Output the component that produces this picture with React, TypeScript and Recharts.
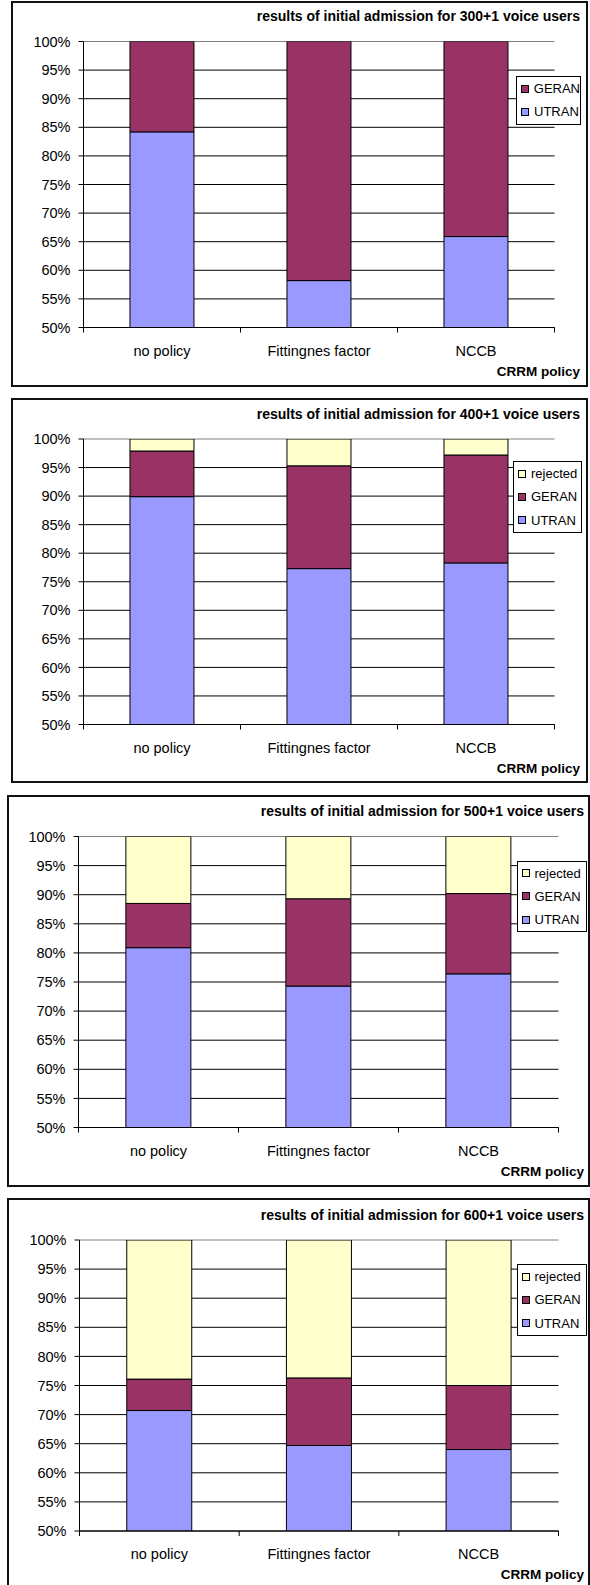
import React from 'react'
import { Bar, BarChart, CartesianGrid, Legend, XAxis, YAxis } from 'recharts'

const policies = ['no policy', 'Fittingnes factor', 'NCCB']
const percentTicks = [50, 55, 60, 65, 70, 75, 80, 85, 90, 95, 100]

const utran300 = [84.2, 58.2, 65.9]
const geran300 = [15.8, 41.8, 34.1]

const utran400 = [89.9, 77.3, 78.3]
const geran400 = [8.0, 18.0, 18.9]
const rejected400 = [2.1, 4.7, 2.8]

const utran500 = [80.9, 74.3, 76.4]
const geran500 = [7.6, 15.0, 13.8]
const rejected500 = [11.5, 10.7, 9.8]

const utran600 = [70.7, 64.7, 64.0]
const geran600 = [5.4, 11.6, 11.0]
const rejected600 = [23.9, 23.7, 25.0]

const FONT = '"Liberation Sans", Arial, sans-serif'
const PAGE_W = 590
const PAGE_H = 1585
const X_AXIS_H = 40

const colors: Record<string, string> = {
    utran: '#9999FF',
    geran: '#993366',
    rejected: '#FFFFCC',
}
const names: Record<string, string> = {
    utran: 'UTRAN',
    geran: 'GERAN',
    rejected: 'rejected',
}

type Box = { left: number, top: number, width: number, height: number }
type Plot = { left: number, top: number, right: number, bottom: number }

const buildRows = (utran: number[], geran: number[], rejected?: number[]) =>
    policies.map((policy, i) => ({
        policy,
        utran: utran[i],
        geran: geran[i],
        ...(rejected ? { rejected: rejected[i] } : {}),
    }))

// category tick: label in the middle, small tick marks on the band edges (excel style)
const PolicyTick = (props: any) => {
    const { x, y, payload, index, visibleTicksCount, bandHalf } = props
    const half = payload && payload.offset ? payload.offset : bandHalf
    return (
        <g>
            <line x1={x - half} x2={x - half} y1={y} y2={y + 5} stroke="#000" />
            {index === visibleTicksCount - 1 &&
                <line x1={x + half} x2={x + half} y1={y} y2={y + 5} stroke="#000" />}
            <text x={x} y={y + 28} textAnchor="middle" fill="#000" fontSize={14.5} fontFamily={FONT}>
                {payload.value}
            </text>
        </g>
    )
}

const GridLine = (props: any) => {
    const { x1, x2, y1, y2, y } = props
    const isTop = Math.abs(y1 - y) < 0.5
    return <line x1={x1} x2={x2} y1={y1} y2={y2} stroke={isTop ? '#808080' : '#000'} strokeWidth={1} />
}

const makeLegend = (width: number, series: string[]) => () => {
    const items = [...series].reverse()
    return (
        <div style={{
            width, boxSizing: 'border-box', border: '1px solid #000', background: '#fff',
            paddingLeft: 4, fontFamily: FONT, fontSize: 13, color: '#000',
        }}>
            {items.map((key) => (
                <div key={key} style={{ display: 'flex', alignItems: 'center', height: 23.3, whiteSpace: 'nowrap' }}>
                    <span style={{
                        display: 'inline-block', width: 8, height: 8, boxSizing: 'border-box',
                        border: '1px solid #000', background: colors[key], marginRight: 5,
                    }} />
                    {names[key]}
                </div>
            ))}
        </div>
    )
}

const Panel = ({ title, rows, series, box, plot, legend, textRight }: {
    title: string, rows: any[], series: string[], box: Box, plot: Plot, legend: Box, textRight: number
}) => {
    const chartH = Math.min(box.height, PAGE_H - box.top)
    const margin = {
        top: plot.top - box.top,
        left: 0,
        right: PAGE_W - plot.right,
        bottom: chartH - (plot.bottom - box.top) - X_AXIS_H,
    }
    const bandHalf = (plot.right - plot.left) / policies.length / 2
    return (
        <>
            <div style={{
                position: 'absolute', left: box.left, top: box.top, width: box.width, height: box.height,
                border: '2px solid #111', boxSizing: 'border-box', background: '#fff',
            }} />
            <div style={{ position: 'absolute', left: 0, top: box.top }}>
                <BarChart width={PAGE_W} height={chartH} data={rows} margin={margin} barCategoryGap="29.6%">
                    <CartesianGrid vertical={false} horizontal={<GridLine />} stroke="#000" />
                    <XAxis dataKey="policy" height={X_AXIS_H} tickSize={0} tickMargin={0} tickLine={false}
                        axisLine={{ stroke: '#000' }} tick={<PolicyTick bandHalf={bandHalf} />} interval={0} />
                    <YAxis width={plot.left} domain={[50, 100]} ticks={percentTicks} allowDataOverflow
                        tickFormatter={(v) => `${v}%`} tickSize={5} tickMargin={8}
                        axisLine={{ stroke: '#000' }} tickLine={{ stroke: '#000' }}
                        tick={{ fill: '#000', fontSize: 14.5, fontFamily: FONT }} />
                    <YAxis yAxisId="frame" orientation="right" width={0} domain={[50, 100]} tick={false}
                        tickLine={false} axisLine={{ stroke: '#808080' }} />
                    <Legend layout="vertical" align="center" verticalAlign="middle"
                        content={makeLegend(legend.width, series)}
                        wrapperStyle={{ left: legend.left, top: legend.top - box.top, width: legend.width }} />
                    {series.map((key) => (
                        <Bar key={key} dataKey={key} name={names[key]} stackId="a" fill={colors[key]}
                            stroke="#000" strokeWidth={1} isAnimationActive={false} />
                    ))}
                </BarChart>
            </div>
            <svg width={PAGE_W} height={chartH} style={{ position: 'absolute', left: 0, top: box.top, pointerEvents: 'none' }}>
                <text x={textRight} y={plot.top - box.top - 20.4} textAnchor="end" fontFamily={FONT}
                    fontWeight="bold" fontSize={14} fill="#000">{title}</text>
                <text x={textRight} y={plot.bottom - box.top + 48.3} textAnchor="end" fontFamily={FONT}
                    fontWeight="bold" fontSize={13.5} fill="#000">CRRM policy</text>
            </svg>
        </>
    )
}

export default function App() {
    return (
        <div style={{ position: 'absolute', left: 0, top: 0, width: PAGE_W, height: PAGE_H, overflow: 'hidden', background: '#fff' }}>
            <Panel title="results of initial admission for 300+1 voice users"
                rows={buildRows(utran300, geran300)} series={['utran', 'geran']}
                box={{ left: 11, top: 1, width: 577, height: 386 }}
                plot={{ left: 83.5, top: 41.5, right: 554.5, bottom: 327.5 }}
                legend={{ left: 516, top: 76, width: 65, height: 47 }} textRight={580} />
            <Panel title="results of initial admission for 400+1 voice users"
                rows={buildRows(utran400, geran400, rejected400)} series={['utran', 'geran', 'rejected']}
                box={{ left: 11, top: 398, width: 577, height: 385 }}
                plot={{ left: 83.5, top: 439, right: 554.5, bottom: 724.5 }}
                legend={{ left: 513, top: 461, width: 69, height: 71 }} textRight={580} />
            <Panel title="results of initial admission for 500+1 voice users"
                rows={buildRows(utran500, geran500, rejected500)} series={['utran', 'geran', 'rejected']}
                box={{ left: 7, top: 795, width: 583, height: 392 }}
                plot={{ left: 78.5, top: 836.5, right: 558.5, bottom: 1127.5 }}
                legend={{ left: 516.5, top: 860.5, width: 70, height: 71 }} textRight={584} />
            <Panel title="results of initial admission for 600+1 voice users"
                rows={buildRows(utran600, geran600, rejected600)} series={['utran', 'geran', 'rejected']}
                box={{ left: 7, top: 1198, width: 583, height: 400 }}
                plot={{ left: 79.5, top: 1240, right: 558.5, bottom: 1531 }}
                legend={{ left: 516.5, top: 1264, width: 70, height: 71 }} textRight={584} />
        </div>
    )
}
